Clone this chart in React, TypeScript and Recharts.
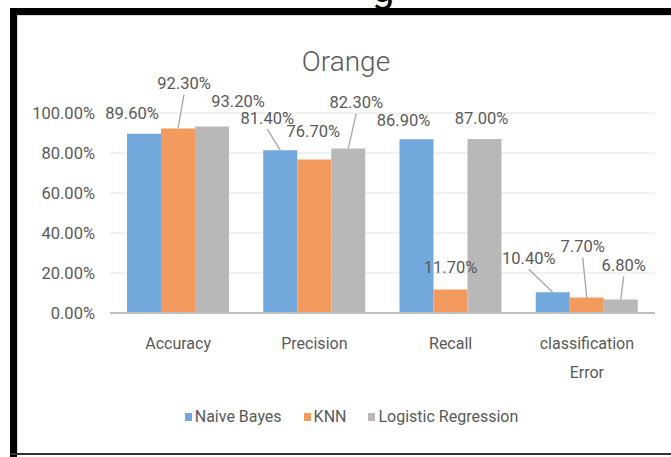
import React from 'react';
import { BarChart, Bar, XAxis, YAxis, CartesianGrid, Legend, LabelList } from 'recharts';

const categories = ['Accuracy', 'Precision', 'Recall', 'classification Error'];
const naiveBayes = [0.896, 0.814, 0.869, 0.104];
const knn = [0.923, 0.767, 0.117, 0.077];
const logisticRegression = [0.932, 0.823, 0.87, 0.068];
const yTicks = [0, 0.2, 0.4, 0.6, 0.8, 1];

const FONT = 'Roboto, "Open Sans", sans-serif';
const TEXT = '#595959';

const series = [
  { key: 'nb', name: 'Naive Bayes', color: '#72A8DC' },
  { key: 'knn', name: 'KNN', color: '#F39B5F' },
  { key: 'lr', name: 'Logistic Regression', color: '#B8B8B8' },
];

// label placement relative to bar top centre: [dx, dy, leader line]
const labelOffsets: Record<string, [number, number, boolean][]> = {
  nb: [[-12, -20, false], [-13, -32, true], [-13, -19, false], [-24, -34, true]],
  knn: [[6, -45, true], [-1, -28, false], [0, -22, false], [-4, -51, true]],
  lr: [[26, -25, false], [8, -46, true], [-3, -21, false], [3, -34, true]],
};

const data = categories.map((c, i) => ({
  name: c,
  nb: naiveBayes[i],
  knn: knn[i],
  lr: logisticRegression[i],
}));

const pct = (v: number) => `${(v * 100).toFixed(2)}%`;

const makeLabel = (key: string) => (props: any) => {
  const { x, y, width, value, index } = props;
  const [dx, dy, lead] = labelOffsets[key][index];
  const bx = x + width / 2;
  const cx = bx + dx;
  const cy = y + dy;
  return (
    <g>
      {lead && <line x1={cx} y1={cy + 11} x2={bx} y2={y} stroke="#A6A6A6" strokeWidth={1.3} />}
      <text x={cx} y={cy} textAnchor="middle" dominantBaseline="central" fill={TEXT} fontSize={16.5} fontFamily={FONT}>
        {pct(value)}
      </text>
    </g>
  );
};

const CategoryTick = ({ x, y, payload }: any) => {
  const words = String(payload.value).split(' ');
  return (
    <g>
      {words.map((w, i) => (
        <text key={i} x={x} y={y + 36 + i * 29} textAnchor="middle" fill={TEXT} fontSize={16} fontFamily={FONT}>
          {w}
        </text>
      ))}
    </g>
  );
};

const LegendContent = () => (
  <div style={{ display: 'flex', justifyContent: 'center', width: 671, paddingLeft: 32, boxSizing: 'border-box', fontFamily: FONT, fontSize: 16, color: TEXT }}>
    {series.map((s) => (
      <div key={s.key} style={{ display: 'flex', alignItems: 'center', margin: '0 11px' }}>
        <span style={{ display: 'inline-block', width: 7, height: 8, background: s.color, marginRight: 3 }} />
        <span>{s.name}</span>
      </div>
    ))}
  </div>
);

export default function App() {
  return (
    <div style={{ position: 'absolute', left: 0, top: 0, width: 671, height: 457, background: '#fff', overflow: 'hidden' }}>
      <div style={{ position: 'absolute', left: 372, top: -30, height: 38, overflow: 'hidden', fontFamily: 'Roboto, sans-serif', fontSize: 40, lineHeight: '38px', color: '#000' }}>g</div>
      <div style={{ position: 'absolute', left: 10, top: 8, width: 661, height: 7, background: '#000' }} />
      <div style={{ position: 'absolute', left: 10, top: 8, width: 7, height: 449, background: '#000' }} />
      <div style={{ position: 'absolute', left: 10, top: 453, width: 661, height: 2, background: '#333' }} />
      <div style={{ position: 'absolute', left: 17, top: 15, width: 654, height: 438, borderLeft: '1px solid #D9D9D9', borderTop: '1px solid #D9D9D9', boxSizing: 'border-box' }} />
      <div style={{ position: 'absolute', left: 346, top: 44, transform: 'translateX(-50%)', fontFamily: FONT, fontSize: 28, fontWeight: 300, color: TEXT, lineHeight: '36px' }}>
        Orange
      </div>
      <div style={{ position: 'absolute', left: 0, top: 0 }}>
        <BarChart width={671} height={457} data={data} margin={{ top: 113, right: 16, bottom: 84, left: 20 }} barSize={34} barGap={0}>
          <CartesianGrid vertical={false} stroke="#E2E2E2" />
          <XAxis
            dataKey="name"
            height={60}
            tickLine={false}
            tickSize={0}
            tickMargin={0}
            axisLine={{ stroke: '#BFBFBF', strokeWidth: 2 }}
            tick={<CategoryTick />}
            interval={0}
          />
          <YAxis
            width={90}
            domain={[0, 1]}
            ticks={yTicks}
            tickFormatter={pct}
            axisLine={false}
            tickLine={false}
            tickSize={0}
            tickMargin={15}
            tick={{ fill: TEXT, fontSize: 16.5, fontFamily: FONT }}
          />
          <Legend
            layout="horizontal"
            verticalAlign="middle"
            align="center"
            content={<LegendContent />}
            wrapperStyle={{ position: 'absolute', top: 407, left: 0, width: 671 }}
          />
          {series.map((s) => (
            <Bar key={s.key} dataKey={s.key} name={s.name} fill={s.color} isAnimationActive={false}>
              <LabelList dataKey={s.key} content={makeLabel(s.key)} />
            </Bar>
          ))}
        </BarChart>
      </div>
    </div>
  );
}
